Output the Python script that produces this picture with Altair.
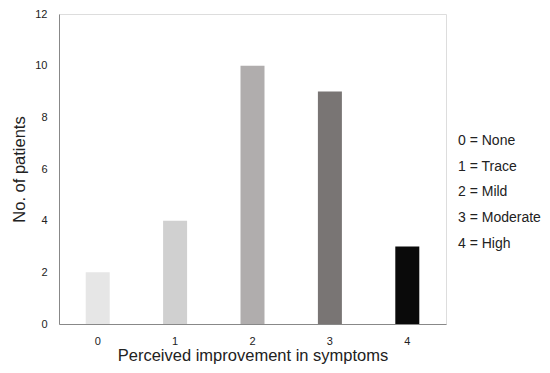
import altair as alt
import pandas as pd

scores = ["0", "1", "2", "3", "4"]
patients = [2, 4, 10, 9, 3]
labels = ["0 = None", "1 = Trace", "2 = Mild", "3 = Moderate", "4 = High"]
colors = ["#e6e6e6", "#d0d0d0", "#b0adad", "#797574", "#0a0a0a"]

df = pd.DataFrame({"score": scores, "patients": patients, "label": labels})

chart = alt.Chart(df).mark_bar(size=24).encode(
    x=alt.X("score:N", sort=scores, title="Perceived improvement in symptoms",
            axis=alt.Axis(labelAngle=0, ticks=False, labelPadding=11, titlePadding=1,
                          labelFontSize=11, titleFontSize=16.5, labelColor="#222",
                          titleColor="#222", domainColor="#888", titleFontWeight="normal")),
    y=alt.Y("patients:Q", title="No. of patients",
            scale=alt.Scale(domain=[0, 12]),
            axis=alt.Axis(values=[0, 2, 4, 6, 8, 10, 12], grid=False, ticks=False,
                          labelPadding=12, titlePadding=7, labelFontSize=11,
                          titleFontSize=16.5, labelColor="#222", titleColor="#222",
                          domainColor="#888", titleFontWeight="normal")),
    color=alt.Color("label:N", sort=labels,
                    scale=alt.Scale(domain=labels, range=colors),
                    legend=alt.Legend(title=None, orient="none", legendX=385, legendY=120,
                                      symbolSize=0, symbolOpacity=0, symbolStrokeWidth=0,
                                      labelOffset=0, labelFontSize=14, labelColor="#222",
                                      rowPadding=11.7, labelLimit=200)),
).properties(
    width=387, height=310,
    autosize=alt.AutoSizeParams(type="none"),
    padding={"left": 51, "top": 6, "right": 96, "bottom": 41},
).configure_view(
    stroke="#888", strokeWidth=1
).configure(
    font="Liberation Sans"
)

chart.save("out.html", embed_options={"renderer": "svg", "actions": False})
